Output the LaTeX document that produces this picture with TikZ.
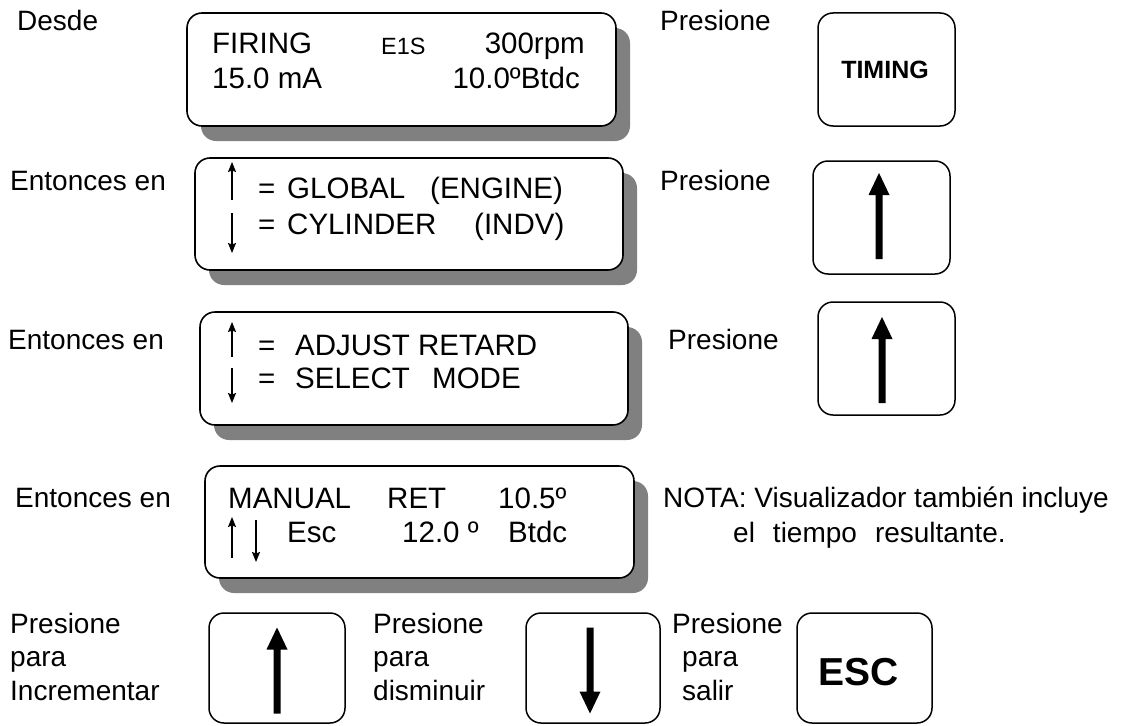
\documentclass[tikz,border=0pt]{standalone}
\usepackage{fontspec}
\setmainfont{Liberation Sans}
\usetikzlibrary{shadows,arrows.meta}
\definecolor{shadowgray}{HTML}{808080}
\newcommand{\dispF}{\fontsize{29.5}{35}\selectfont}
\newcommand{\smallF}{\fontsize{23.5}{28}\selectfont}
\newcommand{\labF}{\fontsize{28}{33.5}\selectfont}
\newcommand{\keyF}{\bfseries\fontsize{25}{30}\selectfont}
\newcommand{\escF}{\bfseries\fontsize{39}{45}\selectfont}
\tikzset{
  display/.style={draw, line width=1.6pt, rounded corners=15pt, fill=white, inner sep=0pt,
    minimum width=429pt, minimum height=113pt,
    drop shadow={shadow xshift=14pt, shadow yshift=-15pt, fill=shadowgray, opacity=1}},
  button/.style={draw, line width=1.5pt, rounded corners=15pt, fill=white, inner sep=0pt,
    minimum width=137pt, minimum height=113pt},
  dtext/.style={anchor=base west, inner sep=0pt, font=\dispF},
  ltext/.style={anchor=base west, inner sep=0pt, font=\labF},
  thinarrow/.style={line width=1.2pt, -{Stealth[length=10pt,width=8pt,inset=1.5pt]}},
  bigup/.pic={\fill (-3.5,43) -- (-3.5,-21) -- (-10.5,-21) -- (0,-43) -- (10.5,-21) -- (3.5,-21) -- (3.5,43) -- cycle;},
  bigdown/.pic={\fill (-3.5,-43) -- (-3.5,21) -- (-10.5,21) -- (0,43) -- (10.5,21) -- (3.5,21) -- (3.5,-43) -- cycle;}
}
\begin{document}
\begin{tikzpicture}[x=1pt,y=-1pt]
\useasboundingbox (0,0) rectangle (1123,725);

% displays
\node[display] (d1) at (401.5,69.5) {};
\node[display, minimum width=428pt, minimum height=112pt] (d2) at (409,214) {};
\node[display, minimum width=428pt] (d3) at (414,368.5) {};
\node[display, minimum height=112pt] (d4) at (419.5,522) {};

% display 1 text
\node[dtext] (t1a) at (212,54) {FIRING};
\node[anchor=base west, inner sep=0pt, font=\smallF] (t1b) at (381,55) {E1S};
\node[anchor=base east, inner sep=0pt, font=\dispF] (t1c) at (585,54) {300rpm};
\node[dtext] (t1d) at (212,88) {15.0 mA};
\node[anchor=base east, inner sep=0pt, font=\dispF] (t1e) at (580,88) {10.0ºBtdc};

% display 2 text
\draw[thinarrow] (232,200) -- (232,162);
\draw[thinarrow] (232,213) -- (232,253);
\node[dtext] (t2a) at (258,198) {=};
\node[dtext] (t2b) at (287,198) {GLOBAL};
\node[dtext] (t2c) at (430,198) {(ENGINE)};
\node[dtext] (t2d) at (258,234) {=};
\node[dtext] (t2e) at (287,234) {CYLINDER};
\node[dtext] (t2f) at (474,234) {(INDV)};

% display 3 text
\draw[thinarrow] (232,357) -- (232,322);
\draw[thinarrow] (232,368) -- (232,403);
\node[dtext] (t3a) at (258,355) {=};
\node[dtext] (t3b) at (295,355) {ADJUST RETARD};
\node[dtext] (t3c) at (258,388) {=};
\node[dtext] (t3d) at (295,388) {SELECT};
\node[dtext] (t3e) at (432,388) {MODE};

% display 4 text
\node[dtext] (t4a) at (228,508) {MANUAL};
\node[dtext] (t4b) at (387,508) {RET};
\node[dtext] (t4c) at (498,508) {10.5º};
\draw[thinarrow] (232,558) -- (232,517);
\draw[thinarrow] (256,520) -- (256,562);
\node[dtext] (t4d) at (287,542) {Esc};
\node[dtext] (t4e) at (402,542) {12.0 º};
\node[dtext] (t4f) at (508,542) {Btdc};

% left labels
\node[ltext] (l1) at (17,31) {Desde};
\node[ltext] (l2) at (10,190) {Entonces en};
\node[ltext] (l3) at (8,349) {Entonces en};
\node[ltext] (l4) at (15,507) {Entonces en};

% right labels
\node[ltext] (r1) at (660,31) {Presione};
\node[ltext] (r2) at (660,190) {Presione};
\node[ltext] (r3) at (668,349) {Presione};
\node[ltext] (nota1) at (663,507) {NOTA: Visualizador también incluye};
\node[ltext] (nota2) at (733,542) {el\hspace{18pt}tiempo\hspace{18pt}resultante.};

% right buttons
\node[button] (b1) at (886.5,69.5) {};
\node[anchor=base, inner sep=0pt, font=\keyF] (b1t) at (885,78.5) {TIMING};
\node[button] (b2) at (881.5,217.5) {};
\pic (a2) at (879,216) {bigup};
\node[button] (b3) at (886.5,358.5) {};
\pic (a3) at (882,360) {bigup};

% bottom row
\node[ltext] (p1a) at (10,633) {Presione};
\node[ltext] (p1b) at (10,666) {para};
\node[ltext] (p1c) at (10,700) {Incrementar};
\node[button, minimum width=136pt, minimum height=110pt] (bu) at (277,668) {};
\pic (au) at (277,670.5) {bigup};

\node[ltext] (p2a) at (373,633) {Presione};
\node[ltext] (p2b) at (373,666) {para};
\node[ltext] (p2c) at (373,700) {disminuir};
\node[button, minimum width=134pt, minimum height=110pt] (bd) at (593,668) {};
\pic (ad) at (590,670.5) {bigdown};

\node[ltext] (p3a) at (672,633) {Presione};
\node[ltext] (p3b) at (682,666) {para};
\node[ltext] (p3c) at (682,700) {salir};
\node[button, minimum width=135pt, minimum height=110pt] (be) at (864.5,668) {};
\node[anchor=base, inner sep=0pt, font=\escF] (bet) at (859,685) {ESC};
\end{tikzpicture}
\end{document}
